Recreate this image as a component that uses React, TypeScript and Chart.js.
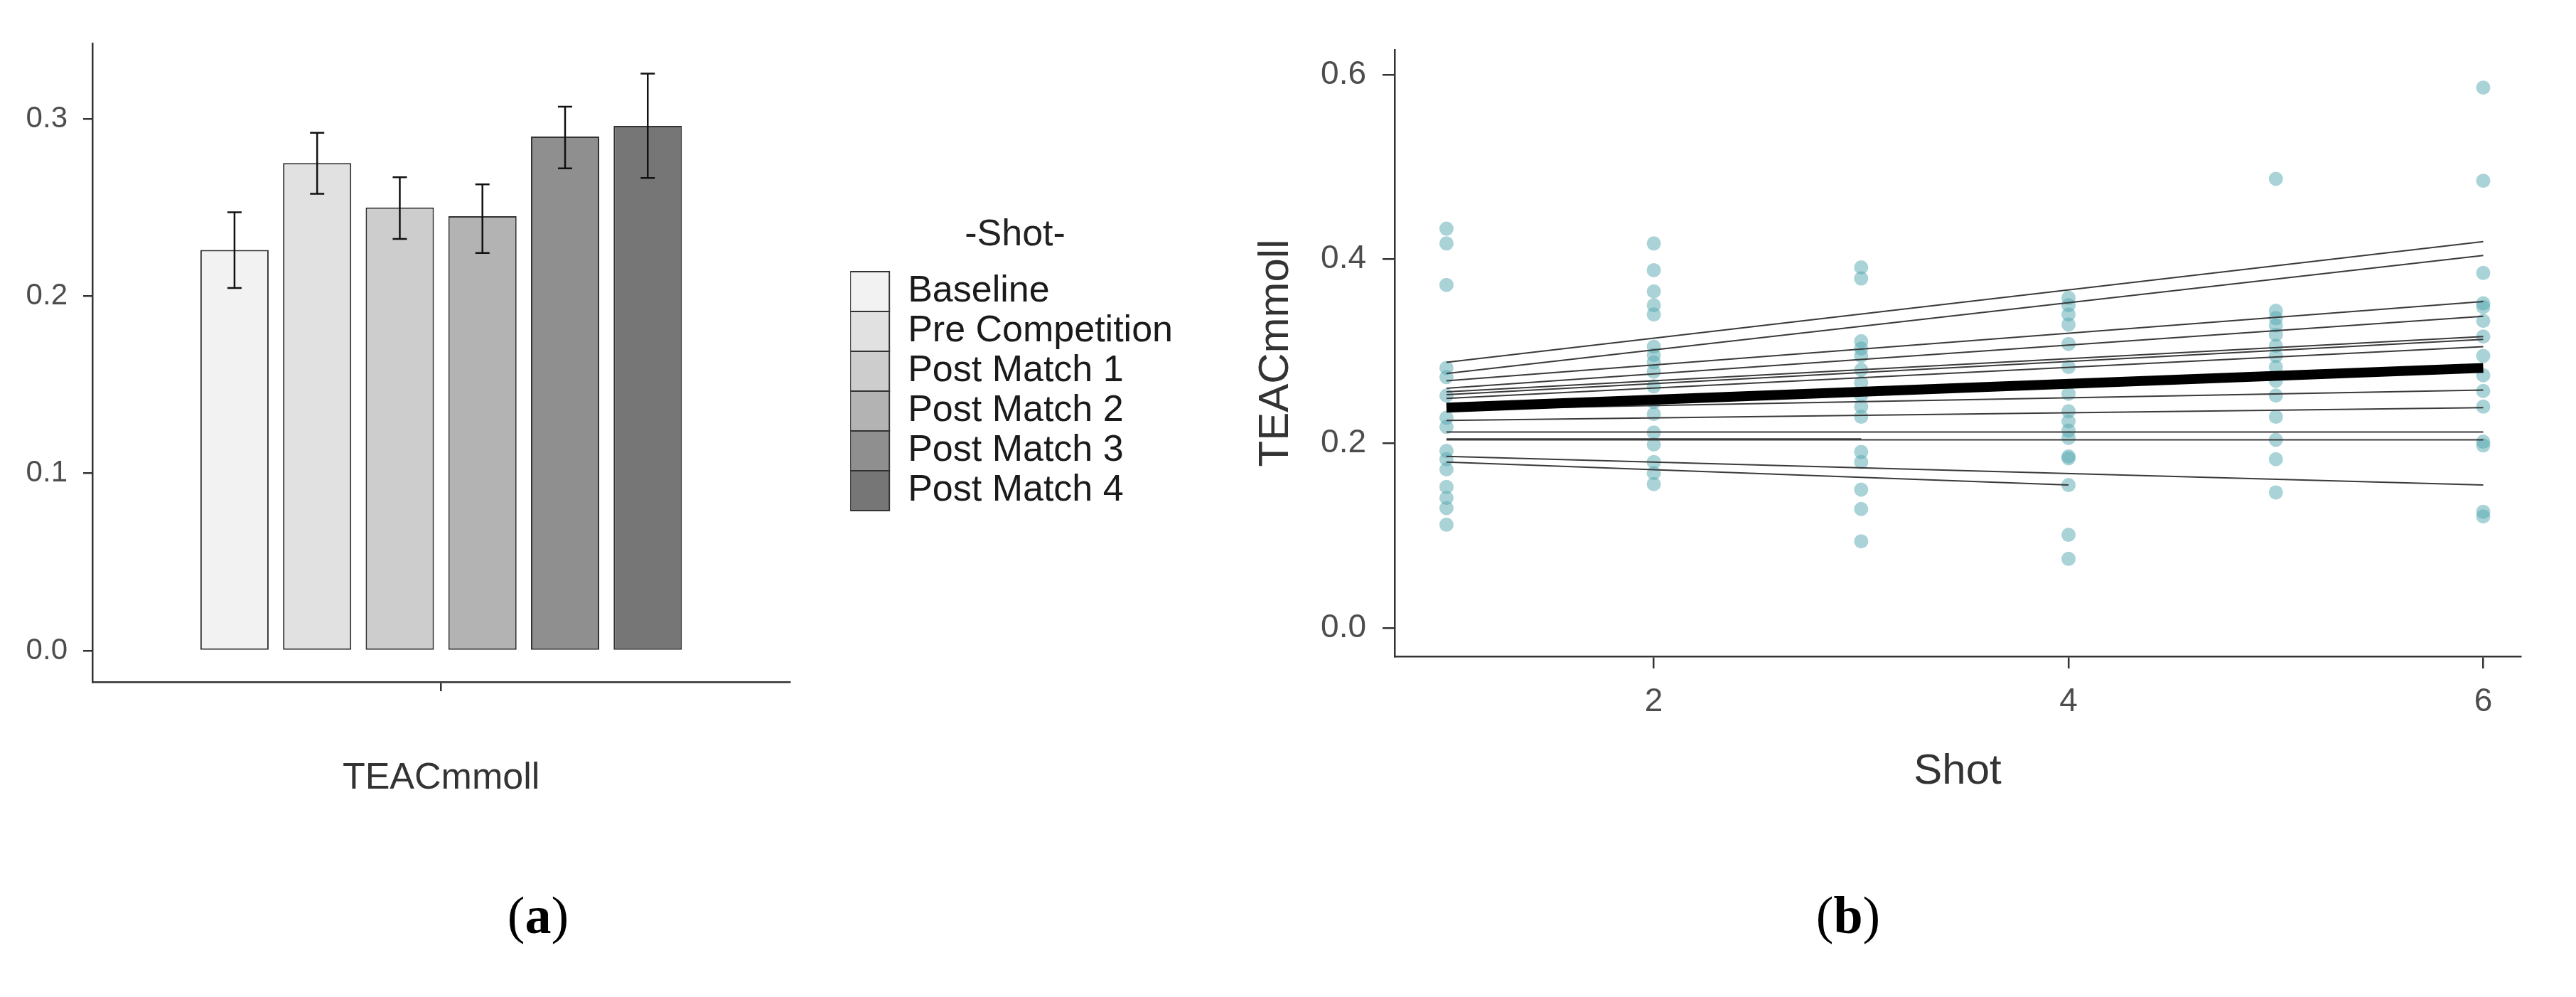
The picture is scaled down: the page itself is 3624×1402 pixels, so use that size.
import React, { useEffect, useRef } from 'react';
import { Chart, registerables } from 'chart.js';

Chart.register(...registerables);

// panel (a): mean TEAC per shot with error bars
const shotLabels = ['Baseline', 'Pre Competition', 'Post Match 1', 'Post Match 2', 'Post Match 3', 'Post Match 4'];
const teacMeans = [0.226, 0.275, 0.25, 0.245, 0.29, 0.296];
const teacLower = [0.2045, 0.2577, 0.2322, 0.2243, 0.272, 0.2666];
const teacUpper = [0.2472, 0.2921, 0.267, 0.263, 0.3068, 0.3255];
const barColors = ['#f2f2f2', '#e1e1e1', '#cdcdcd', '#b3b3b3', '#8f8f8f', '#767676'];
const barTicks = [0, 0.1, 0.2, 0.3];

// panel (b): individual values per shot and fitted lines
const shots = [1, 2, 3, 4, 5, 6];
const shot1Teac = [0.433, 0.417, 0.372, 0.282, 0.272, 0.252, 0.228, 0.218, 0.192, 0.183, 0.172, 0.153, 0.141, 0.13, 0.112];
const shot2Teac = [0.417, 0.388, 0.365, 0.35, 0.34, 0.305, 0.296, 0.288, 0.278, 0.262, 0.245, 0.232, 0.212, 0.199, 0.18, 0.168, 0.156];
const shot3Teac = [0.391, 0.379, 0.311, 0.303, 0.295, 0.28, 0.266, 0.252, 0.24, 0.229, 0.191, 0.18, 0.15, 0.129, 0.094];
const shot4Teac = [0.358, 0.35, 0.34, 0.329, 0.308, 0.283, 0.254, 0.235, 0.224, 0.214, 0.206, 0.186, 0.184, 0.155, 0.101, 0.075];
const shot5Teac = [0.487, 0.344, 0.336, 0.328, 0.318, 0.306, 0.295, 0.283, 0.268, 0.252, 0.229, 0.204, 0.183, 0.147];
const shot6Teac = [0.586, 0.485, 0.385, 0.352, 0.348, 0.333, 0.316, 0.295, 0.274, 0.257, 0.24, 0.202, 0.198, 0.126, 0.121];
const shotTeac = [shot1Teac, shot2Teac, shot3Teac, shot4Teac, shot5Teac, shot6Teac];

const lineFromShot = [1, 1, 1, 1, 1, 1, 1, 1, 1, 1, 1, 1, 1, 1];
const lineToShot = [6, 6, 6, 6, 6, 6, 6, 6, 6, 6, 6, 6, 4, 3];
const lineFromTeac = [0.288, 0.276, 0.268, 0.26, 0.256, 0.253, 0.249, 0.237, 0.225, 0.2125, 0.204, 0.186, 0.18, 0.205];
const lineToTeac = [0.419, 0.404, 0.354, 0.338, 0.316, 0.313, 0.305, 0.258, 0.239, 0.2125, 0.204, 0.155, 0.155, 0.205];
const fixedFromTeac = 0.239;
const fixedToTeac = 0.282;
const trendYTicks = [0, 0.2, 0.4, 0.6];
const trendXTicks = [2, 4, 6];

const FONT = "'Liberation Sans', Arial, sans-serif";
const AXIS = '#333333';
const TICK_TEXT = '#4d4d4d';

const errorBarPlugin = {
  id: 'errorBars',
  afterDatasetsDraw(chart: any) {
    const { ctx } = chart;
    const y = chart.scales.y;
    ctx.save();
    ctx.strokeStyle = '#111111';
    ctx.lineWidth = 2.5;
    chart.data.datasets.forEach((_: any, i: number) => {
      const bar = chart.getDatasetMeta(i).data[0];
      if (!bar) return;
      const top = y.getPixelForValue(teacUpper[i]);
      const bottom = y.getPixelForValue(teacLower[i]);
      ctx.beginPath();
      ctx.moveTo(bar.x, top);
      ctx.lineTo(bar.x, bottom);
      ctx.moveTo(bar.x - 10, top);
      ctx.lineTo(bar.x + 10, top);
      ctx.moveTo(bar.x - 10, bottom);
      ctx.lineTo(bar.x + 10, bottom);
      ctx.stroke();
    });
    ctx.restore();
  },
};

const BarPanel: React.FC = () => {
  const canvasRef = useRef<HTMLCanvasElement | null>(null);

  useEffect(() => {
    const ctx = canvasRef.current?.getContext('2d');
    if (!ctx) return;
    const chart = new Chart(ctx, {
      type: 'bar',
      data: {
        labels: ['TEACmmoll'],
        datasets: shotLabels.map((label, i) => ({
          label,
          data: [teacMeans[i]],
          backgroundColor: barColors[i],
          borderColor: AXIS,
          borderWidth: 2,
          borderSkipped: false,
          categoryPercentage: 0.711,
          barPercentage: 0.826,
        })),
      },
      options: {
        responsive: false,
        animation: false,
        layout: { padding: { top: 61, left: 0, right: 0, bottom: 0 } },
        plugins: {
          tooltip: { enabled: false },
          legend: {
            position: 'right',
            align: 'start',
            maxWidth: 700,
            title: {
              display: true,
              text: '-Shot-',
              color: '#222222',
              font: { family: FONT, size: 52 },
              padding: { top: 244, bottom: 14.6 },
            },
            labels: {
              boxWidth: 55,
              boxHeight: 56,
              padding: 0,
              color: '#1a1a1a',
              font: { family: FONT, size: 52 },
            },
          },
        },
        scales: {
          x: {
            grid: { display: true, drawOnChartArea: false, offset: false, tickLength: 13, color: AXIS, lineWidth: 2.5 },
            border: { display: true, color: AXIS, width: 2.5 },
            ticks: { callback: () => '' },
            title: {
              display: true,
              text: 'TEACmmoll',
              color: '#333333',
              font: { family: FONT, size: 52 },
              padding: { top: 0, bottom: 54 },
            },
            afterFit: (scale: any) => {
              scale.height = 221;
            },
          },
          y: {
            min: -0.01765,
            max: 0.3425,
            afterBuildTicks: (axis: any) => {
              axis.ticks = barTicks.map((value) => ({ value }));
            },
            grid: { display: true, drawOnChartArea: false, tickLength: 13, color: AXIS, lineWidth: 2.5 },
            border: { display: true, color: AXIS, width: 2.5 },
            ticks: {
              padding: 22,
              color: TICK_TEXT,
              font: { family: FONT, size: 42 },
              callback: (v: any) => Number(v).toFixed(1),
            },
            afterFit: (scale: any) => {
              scale.width = 130;
            },
          },
          gap: {
            type: 'linear',
            position: 'right',
            grid: { display: false },
            border: { display: false },
            ticks: { display: false },
            afterFit: (scale: any) => {
              scale.width = 85;
            },
          },
        },
      } as any,
      plugins: [errorBarPlugin],
    });
    return () => chart.destroy();
  }, []);

  return (
    <canvas
      ref={canvasRef}
      width={1660}
      height={1180}
      style={{ position: 'absolute', left: 0, top: 0, width: 1660, height: 1180 }}
    />
  );
};

const TrendPanel: React.FC = () => {
  const canvasRef = useRef<HTMLCanvasElement | null>(null);

  useEffect(() => {
    const ctx = canvasRef.current?.getContext('2d');
    if (!ctx) return;

    const points = shotTeac.flatMap((values, i) => values.map((v) => ({ x: shots[i], y: v })));
    const subjectLines = lineFromTeac.map((from, i) => ({
      data: [
        { x: lineFromShot[i], y: from },
        { x: lineToShot[i], y: lineToTeac[i] },
      ],
      showLine: true,
      borderColor: '#3a3a3a',
      borderWidth: 2,
      pointRadius: 0,
    }));

    const chart = new Chart(ctx, {
      type: 'scatter',
      data: {
        datasets: [
          {
            data: [
              { x: shots[0], y: fixedFromTeac },
              { x: shots[5], y: fixedToTeac },
            ],
            showLine: true,
            borderColor: '#000000',
            borderWidth: 14,
            pointRadius: 0,
          },
          ...subjectLines,
          {
            data: points,
            backgroundColor: 'rgba(83, 168, 176, 0.5)',
            borderWidth: 0,
            pointRadius: 10,
          },
        ],
      },
      options: {
        responsive: false,
        animation: false,
        layout: { padding: { top: 70, left: 0, right: 78, bottom: 0 } },
        plugins: { legend: { display: false }, tooltip: { enabled: false } },
        scales: {
          x: {
            type: 'linear',
            min: 0.75,
            max: 6.18,
            afterBuildTicks: (axis: any) => {
              axis.ticks = trendXTicks.map((value) => ({ value }));
            },
            grid: { display: true, drawOnChartArea: false, tickLength: 17, color: AXIS, lineWidth: 2.5 },
            border: { display: true, color: AXIS, width: 2.5 },
            ticks: {
              padding: 20,
              color: TICK_TEXT,
              font: { family: FONT, size: 46 },
              callback: (v: any) => String(v),
            },
            title: {
              display: true,
              text: 'Shot',
              color: '#333333',
              font: { family: FONT, size: 60 },
              padding: { top: 0, bottom: 59 },
            },
            afterFit: (scale: any) => {
              scale.height = 257;
            },
          },
          y: {
            min: -0.0308,
            max: 0.627,
            afterBuildTicks: (axis: any) => {
              axis.ticks = trendYTicks.map((value) => ({ value }));
            },
            grid: { display: true, drawOnChartArea: false, tickLength: 17, color: AXIS, lineWidth: 2.5 },
            border: { display: true, color: AXIS, width: 2.5 },
            ticks: {
              padding: 23,
              color: TICK_TEXT,
              font: { family: FONT, size: 46 },
              callback: (v: any) => Number(v).toFixed(1),
            },
            title: {
              display: true,
              text: 'TEACmmoll',
              color: '#333333',
              font: { family: FONT, size: 60 },
              padding: { top: 19, bottom: 19 },
            },
            afterFit: (scale: any) => {
              scale.width = 222;
            },
          },
        },
      } as any,
    });
    return () => chart.destroy();
  }, []);

  return (
    <canvas
      ref={canvasRef}
      width={1884}
      height={1180}
      style={{ position: 'absolute', left: 1740, top: 0, width: 1884, height: 1180 }}
    />
  );
};

const captionStyle: React.CSSProperties = {
  position: 'absolute',
  top: 1287,
  transform: 'translate(-50%, -50%)',
  fontFamily: "'Palatino Linotype', 'Book Antiqua', 'Liberation Serif', serif",
  fontSize: 74,
  lineHeight: 1,
  color: '#000000',
  whiteSpace: 'nowrap',
};

export default function App() {
  return (
    <div
      style={{
        position: 'absolute',
        left: 0,
        top: 0,
        width: 3624,
        height: 1402,
        background: '#ffffff',
        overflow: 'hidden',
      }}
    >
      <BarPanel />
      <TrendPanel />
      <div style={{ ...captionStyle, left: 757 }}>
        (<b>a</b>)
      </div>
      <div style={{ ...captionStyle, left: 2600 }}>
        (<b>b</b>)
      </div>
    </div>
  );
}
